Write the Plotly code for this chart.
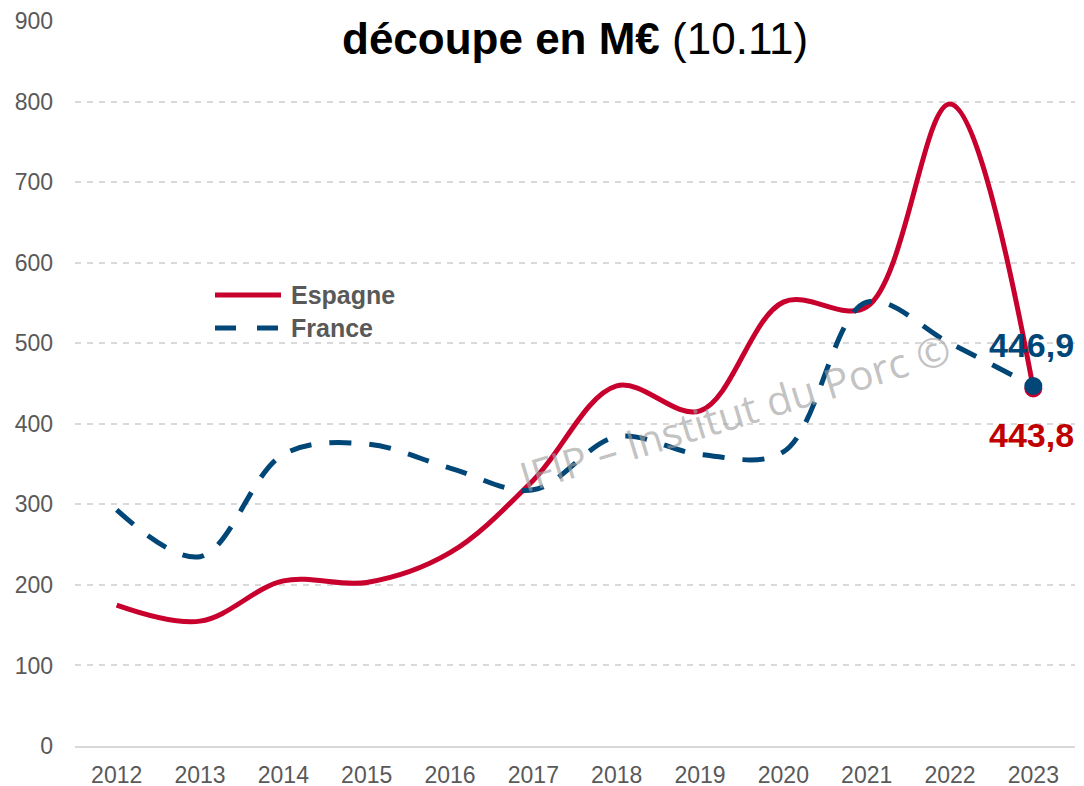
import plotly.graph_objects as go

years = ["2012", "2013", "2014", "2015", "2016", "2017", "2018", "2019", "2020", "2021", "2022", "2023"]
espagne = [175, 155, 205, 203, 240, 330, 447, 416, 551, 545, 797, 443.8]
france = [293, 235, 362, 375, 345, 318, 384, 362, 365, 551, 500, 446.9]
y_ticks = [0, 100, 200, 300, 400, 500, 600, 700, 800, 900]

RED = "#C8002D"
BLUE = "#004677"
GRAY_TXT = "#595959"
FONT = "Liberation Sans, Arial"

fig = go.Figure()
fig.add_trace(go.Scatter(
    x=years, y=espagne, mode="lines", name="Espagne",
    line=dict(color=RED, width=5, shape="spline", smoothing=1.0),
    showlegend=False, hoverinfo="skip"))
fig.add_trace(go.Scatter(
    x=years, y=france, mode="lines", name="France",
    line=dict(color=BLUE, width=5, shape="spline", smoothing=1.0, dash="22px,18px"),
    showlegend=False, hoverinfo="skip"))
# end markers
fig.add_trace(go.Scatter(
    x=[years[-1]], y=[espagne[-1]], mode="markers",
    marker=dict(color=RED, size=18), showlegend=False, hoverinfo="skip"))
fig.add_trace(go.Scatter(
    x=[years[-1]], y=[france[-1]], mode="markers",
    marker=dict(color=BLUE, size=18), showlegend=False, hoverinfo="skip"))

fmt = lambda v: f"{v:.1f}".replace(".", ",")
last = len(years) - 1
fig.add_annotation(x=last, y=france[-1], text=f"<b>{fmt(france[-1])}</b>",
                   showarrow=False, yshift=41, xshift=-2,
                   font=dict(family=FONT, size=34, color=BLUE))
fig.add_annotation(x=last, y=espagne[-1], text=f"<b>{fmt(espagne[-1])}</b>",
                   showarrow=False, yshift=-47, xshift=-2,
                   font=dict(family=FONT, size=34, color="#C00000"))

def px_x(p):
    return (p - 75) / 1000

def px_y(p):
    return (746 - p) / 725

# title (second line visible)
fig.add_annotation(xref="paper", yref="paper", x=px_x(575), y=px_y(38),
                   xanchor="center", yanchor="middle", showarrow=False,
                   text="<b>découpe en M€</b> (10.11)",
                   font=dict(family=FONT, size=44, color="#000000"))

# watermark
fig.add_annotation(xref="paper", yref="paper", x=px_x(735), y=px_y(412),
                   showarrow=False, textangle=-17,
                   text="IFIP – Institut du Porc ©",
                   font=dict(family="Open Sans, Lato", size=41, color="rgba(160,160,160,0.65)"))

# manual legend
fig.add_shape(type="line", xref="paper", yref="paper",
              x0=px_x(215), x1=px_x(281), y0=px_y(295), y1=px_y(295),
              line=dict(color=RED, width=5))
fig.add_shape(type="line", xref="paper", yref="paper",
              x0=px_x(215), x1=px_x(281), y0=px_y(328), y1=px_y(328),
              line=dict(color=BLUE, width=5, dash="21px,21px"))
fig.add_annotation(xref="paper", yref="paper", x=px_x(289), y=px_y(295),
                   xanchor="left", yanchor="middle", showarrow=False,
                   text="<b>Espagne</b>",
                   font=dict(family=FONT, size=25, color=GRAY_TXT))
fig.add_annotation(xref="paper", yref="paper", x=px_x(289), y=px_y(328),
                   xanchor="left", yanchor="middle", showarrow=False,
                   text="<b>France</b>",
                   font=dict(family=FONT, size=25, color=GRAY_TXT))

fig.update_layout(
    width=1084, height=786,
    margin=dict(l=67, r=17, t=13, b=48),
    paper_bgcolor="white", plot_bgcolor="white",
    showlegend=False,
    xaxis=dict(type="category", range=[-0.5, 11.5], showgrid=False,
               showline=True, linecolor="#d9d9d9", linewidth=2,
               ticks="", automargin=False,
               tickfont=dict(family=FONT, size=23, color=GRAY_TXT),
               ticklabelstandoff=7),
    yaxis=dict(range=[0, 900], tickvals=y_ticks, showgrid=True,
               gridcolor="#d9d9d9", griddash="6px,6px", gridwidth=1.5,
               zeroline=False, showline=False, ticks="", automargin=False,
               tickfont=dict(family=FONT, size=23, color=GRAY_TXT),
               ticklabelstandoff=21),
)

fig.write_html("out.html")
